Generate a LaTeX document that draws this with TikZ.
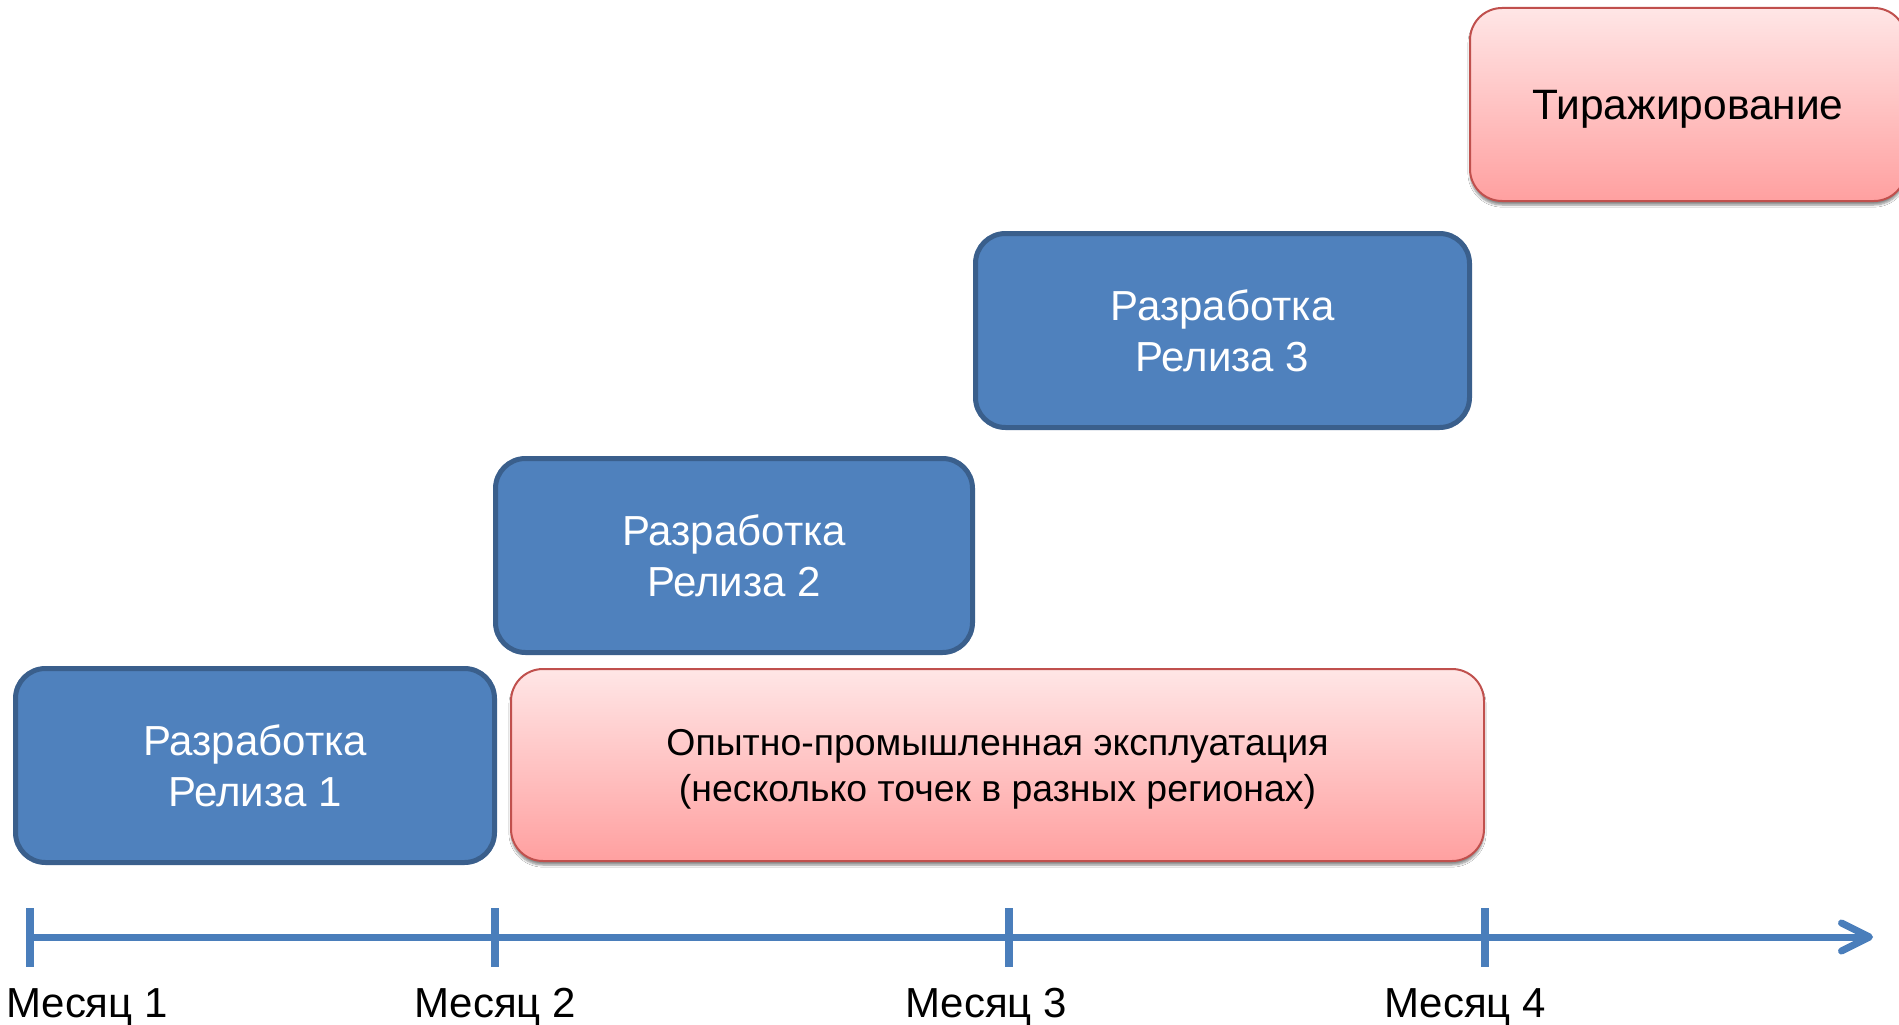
\documentclass[tikz,border=0pt]{standalone}
\usepackage{fontspec}
\setmainfont{Liberation Sans}
\usetikzlibrary{arrows.meta,shadows.blur}

\definecolor{relfill}{HTML}{4F81BD}
\definecolor{reldraw}{HTML}{3A5F8C}
\definecolor{pinktop}{HTML}{FFE6E6}
\definecolor{pinkbot}{HTML}{FFA0A0}
\definecolor{pinkdraw}{HTML}{C0504D}
\definecolor{axiscol}{HTML}{4A7EBB}

\tikzset{
  release/.style={rectangle, rounded corners=30pt, fill=relfill, draw=reldraw,
    line width=5pt, text=white, align=center, inner sep=0pt,
    font=\fontsize{42}{51}\selectfont},
  phase/.style={rectangle, rounded corners=32pt, top color=pinktop,
    bottom color=pinkbot, draw=pinkdraw, line width=2pt, text=black,
    align=center, inner sep=0pt, text depth=0pt,
    blur shadow={shadow xshift=0pt, shadow yshift=-4pt, shadow blur steps=6,
      shadow opacity=45}},
  axisline/.style={draw=axiscol, line width=7pt},
  tick/.style={draw=axiscol, line width=8pt},
  month/.style={anchor=base west, inner sep=0pt, font=\fontsize{42}{50}\selectfont}
}

\begin{document}
\begin{tikzpicture}[x=1pt, y=-1pt]
  \clip (0,0) rectangle (1899,1025);
  \fill[white] (0,0) rectangle (1899,1025);

  % phases
  \node[phase, minimum width=973pt, minimum height=192pt,
        font=\fontsize{37.4}{46}\selectfont] (pilot) at (997.5,765)
    {Опытно-промышленная эксплуатация\\(несколько точек в разных регионах)};
  \node[phase, minimum width=436pt, minimum height=193pt,
        font=\fontsize{42.5}{50}\selectfont] (rollout) at (1688,104.5)
    {Тиражирование};

  % release development blocks
  \node[release, minimum width=479pt, minimum height=194pt] (r1) at (255,765.5)
    {Разработка\\Релиза 1};
  \node[release, minimum width=477pt, minimum height=194pt] (r2) at (734,555.5)
    {Разработка\\Релиза 2};
  \node[release, minimum width=494pt, minimum height=194pt] (r3) at (1222.5,330.5)
    {Разработка\\Релиза 3};

  % time axis
  \coordinate (axstart) at (26,937);
  \coordinate (axend) at (1873,937);
  \draw[axisline, -{Straight Barb[length=28pt, width=28pt, round]}] (axstart) -- (axend);

  \foreach \name/\xx in {t1/30, t2/495, t3/1009, t4/1485} {
    \coordinate (\name top) at (\xx,908);
    \coordinate (\name bot) at (\xx,967);
    \draw[tick] (\name top) -- (\name bot);
  }

  \node[month] (m1) at (6,1017) {Месяц 1};
  \node[month] (m2) at (414,1017) {Месяц 2};
  \node[month] (m3) at (905,1017) {Месяц 3};
  \node[month] (m4) at (1384,1017) {Месяц 4};
\end{tikzpicture}
\end{document}
